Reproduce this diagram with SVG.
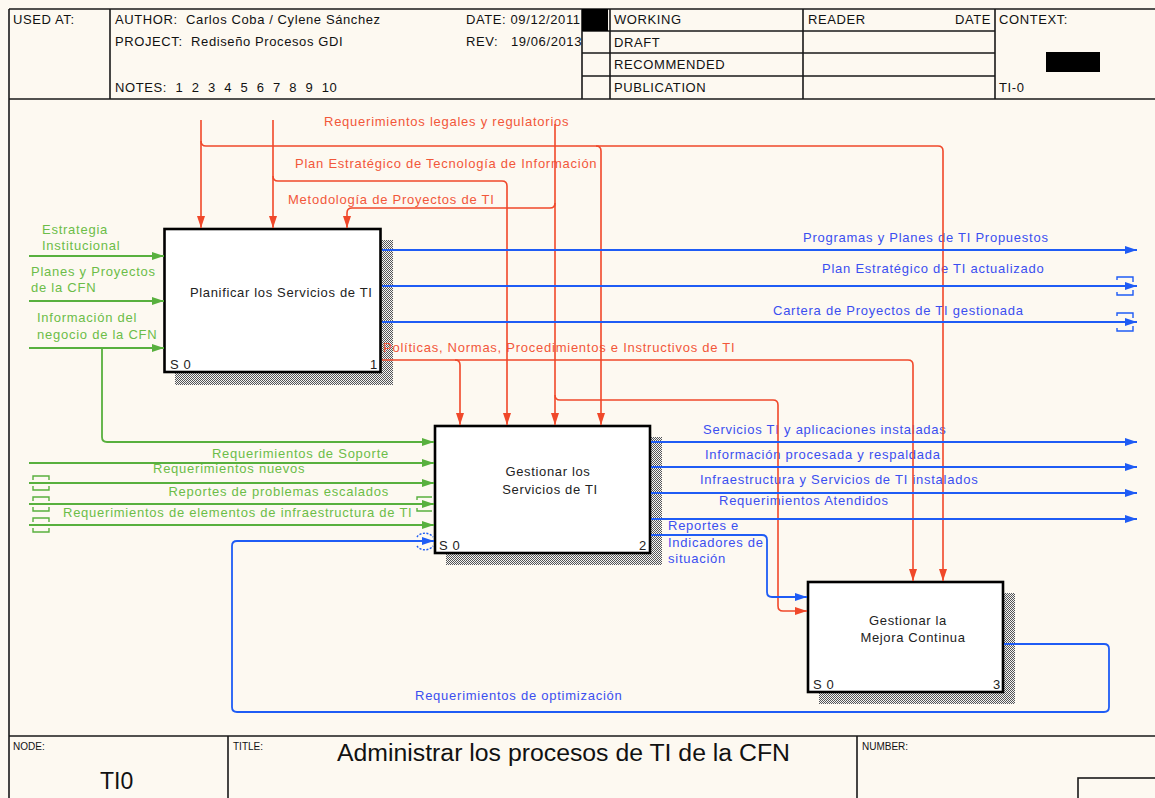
<svg xmlns="http://www.w3.org/2000/svg" width="1155" height="798" viewBox="0 0 1155 798">
  <defs>
    <style>
      .frame { fill: none; stroke: #1a1a1a; stroke-width: 1.6; }
      .hd { font-family: "Liberation Sans", Arial, sans-serif; font-size: 13px; letter-spacing: 0.6px; fill: #111; white-space: pre; }
      .sm { font-family: "Liberation Sans", Arial, sans-serif; font-size: 10px; fill: #111; }
      .box { fill: #ffffff; stroke: #000; stroke-width: 2.6; }
      .shadow { fill: url(#hatch); }
      .bt { font-family: "Liberation Sans", Arial, sans-serif; font-size: 13px; letter-spacing: 0.65px; fill: #222; }
      .lbl { font-family: "Liberation Sans", Arial, sans-serif; font-size: 13px; letter-spacing: 0.75px; }
      .g { fill: #6cbd48; }
      .b { fill: #3b4ff0; }
      .r { fill: #f2573a; }
      .cg { fill: none; stroke: #58b03e; stroke-width: 1.8; }
      .cb { fill: none; stroke: #1f5cf5; stroke-width: 1.8; }
      .cr { fill: none; stroke: #f0482a; stroke-width: 1.6; }
      .tg { fill: none; stroke: #58b03e; stroke-width: 1.4; }
      .tb { fill: none; stroke: #1f5cf5; stroke-width: 1.4; }
    </style>
    <pattern id="hatch" width="2" height="2" patternUnits="userSpaceOnUse">
      <rect width="2" height="2" fill="#f4f4f4"/>
      <rect width="1" height="1" fill="#555"/>
      <rect x="1" y="1" width="1" height="1" fill="#555"/>
    </pattern>
    <marker id="ag" viewBox="0 0 12 8" refX="12" refY="4" markerWidth="12" markerHeight="8" markerUnits="userSpaceOnUse" orient="auto">
      <path d="M0,0 L12,4 L0,8 z" fill="#58b03e"/>
    </marker>
    <marker id="ab" viewBox="0 0 12 8" refX="12" refY="4" markerWidth="12" markerHeight="8" markerUnits="userSpaceOnUse" orient="auto">
      <path d="M0,0 L12,4 L0,8 z" fill="#1f5cf5"/>
    </marker>
    <marker id="ar" viewBox="0 0 12 8" refX="12" refY="4" markerWidth="12" markerHeight="8" markerUnits="userSpaceOnUse" orient="auto">
      <path d="M0,0 L12,4 L0,8 z" fill="#f0482a"/>
    </marker>
  </defs>

  <rect width="1155" height="798" fill="#fdf9f1"/>

  <!-- title block: header -->
  <g id="header">
    <path class="frame" d="M9,9 H1155 M9,99 H1155 M9,9 V798 M110,9 V99 M582,9 V99 M610,9 V99 M803,9 V99 M995,9 V99 M582,31 H995 M582,53 H995 M582,76 H995"/>
    <rect x="582" y="9" width="26" height="22" fill="#000"/>
    <rect x="1046" y="52" width="54" height="20" fill="#000"/>
    <text class="hd" x="13" y="24">USED AT:</text>
    <text class="hd" x="115" y="24">AUTHOR:  Carlos Coba / Cylene Sánchez</text>
    <text class="hd" x="115" y="46">PROJECT:  Rediseño Procesos GDI</text>
    <text class="hd" x="115" y="92">NOTES:  1  2  3  4  5  6  7  8  9  10</text>
    <text class="hd" x="466" y="24">DATE: 09/12/2011</text>
    <text class="hd" x="466" y="46">REV:   19/06/2013</text>
    <text class="hd" x="614" y="24">WORKING</text>
    <text class="hd" x="614" y="47">DRAFT</text>
    <text class="hd" x="614" y="69">RECOMMENDED</text>
    <text class="hd" x="614" y="92">PUBLICATION</text>
    <text class="hd" x="808" y="24">READER</text>
    <text class="hd" x="991" y="24" text-anchor="end">DATE</text>
    <text class="hd" x="999" y="24">CONTEXT:</text>
    <text class="hd" x="999" y="92">TI-0</text>
  </g>

  <!-- title block: footer -->
  <g id="footer">
    <path class="frame" d="M9,736 H1155 M228,736 V798 M857,736 V798"/>
    <rect x="1078" y="778" width="90" height="30" class="frame"/>
    <text class="sm" x="13" y="750">NODE:</text>
    <text class="sm" x="233" y="750">TITLE:</text>
    <text class="sm" x="862" y="750">NUMBER:</text>
    <text x="100" y="789" font-family="Liberation Sans, Arial, sans-serif" font-size="23" fill="#111">TI0</text>
    <text x="337" y="761" font-family="Liberation Sans, Arial, sans-serif" font-size="23" fill="#111" textLength="453" lengthAdjust="spacingAndGlyphs">Administrar los procesos de TI de la CFN</text>
  </g>

  <!-- activity boxes -->
  <g id="node-1">
    <path class="shadow" d="M381,240 H393 V385 H175 V373 H381 Z"/>
    <rect class="box" x="164.5" y="229" width="216" height="143"/>
    <text class="bt" x="190" y="297">Planificar los Servicios de TI</text>
    <text class="bt" x="170" y="369">S 0</text>
    <text class="bt" x="378" y="369" text-anchor="end">1</text>
  </g>
  <g id="node-2">
    <path class="shadow" d="M650,437 H662 V565 H446 V553 H650 Z"/>
    <rect class="box" x="435" y="426" width="215" height="127"/>
    <text class="bt" x="548" y="476" text-anchor="middle">Gestionar los</text>
    <text class="bt" x="550" y="494" text-anchor="middle">Servicios de TI</text>
    <text class="bt" x="439" y="550">S 0</text>
    <text class="bt" x="647" y="550" text-anchor="end">2</text>
  </g>
  <g id="node-3">
    <path class="shadow" d="M1003,593 H1015 V704 H819 V692 H1003 Z"/>
    <rect class="box" x="808" y="582" width="195" height="110"/>
    <text class="bt" x="908" y="625" text-anchor="middle">Gestionar la</text>
    <text class="bt" x="913" y="642" text-anchor="middle">Mejora Continua</text>
    <text class="bt" x="813" y="689">S 0</text>
    <text class="bt" x="1001" y="689" text-anchor="end">3</text>
  </g>

  <!-- arrow labels -->
  <g id="labels" class="lbl">
    <text class="g" x="42" y="234">Estrategia</text>
    <text class="g" x="42" y="250">Institucional</text>
    <text class="g" x="31" y="276">Planes y Proyectos</text>
    <text class="g" x="31" y="292">de la CFN</text>
    <text class="g" x="37" y="322">Información del</text>
    <text class="g" x="37" y="339">negocio de la CFN</text>
    <text class="g" x="389" y="458" text-anchor="end">Requerimientos de Soporte</text>
    <text class="g" x="153" y="473">Requerimientos nuevos</text>
    <text class="g" x="389" y="496" text-anchor="end">Reportes de problemas escalados</text>
    <text class="g" x="63" y="517">Requerimientos de elementos de infraestructura de TI</text>

    <text class="r" x="324" y="126">Requerimientos legales y regulatorios</text>
    <text class="r" x="295" y="168">Plan Estratégico de Tecnología de Información</text>
    <text class="r" x="288" y="204">Metodología de Proyectos de TI</text>
    <text class="r" x="383" y="352">Políticas, Normas, Procedimientos e Instructivos de TI</text>

    <text class="b" x="803" y="242">Programas y Planes de TI Propuestos</text>
    <text class="b" x="822" y="273">Plan Estratégico de TI actualizado</text>
    <text class="b" x="773" y="315">Cartera de Proyectos de TI gestionada</text>
    <text class="b" x="703" y="434">Servicios TI y aplicaciones instaladas</text>
    <text class="b" x="705" y="459">Información procesada y respaldada</text>
    <text class="b" x="700" y="484">Infraestructura y Servicios de TI instalados</text>
    <text class="b" x="719" y="505">Requerimientos Atendidos</text>
    <text class="b" x="668" y="530">Reportes e</text>
    <text class="b" x="668" y="547">Indicadores de</text>
    <text class="b" x="668" y="563">situación</text>
    <text class="b" x="415" y="700">Requerimientos de optimización</text>
  </g>

  <!-- connectors -->
  <g id="connectors">
    <!-- inputs -->
    <path class="cg" d="M29,256 H164" marker-end="url(#ag)"/>
    <path class="cg" d="M29,301 H164" marker-end="url(#ag)"/>
    <path class="cg" d="M29,348 H164" marker-end="url(#ag)"/>
    <path class="cg" d="M102,348 V437 Q102,442 107,442 H434" marker-end="url(#ag)"/>
    <path class="cg" d="M29,463 H434" marker-end="url(#ag)"/>
    <path class="cg" d="M29,483 H434" marker-end="url(#ag)"/>
    <path class="cg" d="M29,504 H434" marker-end="url(#ag)"/>
    <path class="cg" d="M29,525 H434" marker-end="url(#ag)"/>
    <!-- tunnel marks -->
    <path class="tg" d="M33,480 V476 H49 V480 M33,486 V490 H49 V486 M33,501 V497 H49 V501 M33,507 V511 H49 V507 M33,522 V518 H49 V522 M33,528 V532 H49 V528"/>
    <path class="tg" d="M417,500 V497 H432 M417,508 V511 H432"/>

    <!-- controls -->
    <path class="cr" d="M201,120 V228" marker-end="url(#ar)"/>
    <path class="cr" d="M201,141 Q201,146 206,146 H938 Q943,146 943,151 V581" marker-end="url(#ar)"/>
    <path class="cr" d="M596,146 Q601,146 601,151 V425" marker-end="url(#ar)"/>
    <path class="cr" d="M273,120 V228" marker-end="url(#ar)"/>
    <path class="cr" d="M273,176 Q273,181 278,181 H502 Q507,181 507,186 V425" marker-end="url(#ar)"/>
    <path class="cr" d="M555,124 V425" marker-end="url(#ar)"/>
    <path class="cr" d="M555,203 Q555,208 550,208 H352 Q347,208 347,213 V228" marker-end="url(#ar)"/>
    <path class="cr" d="M555,395 Q555,400 560,400 H773 Q778,400 778,405 V606 Q778,611 783,611 H807" marker-end="url(#ar)"/>
    <path class="cr" d="M382,360 H908 Q913,360 913,365 V581" marker-end="url(#ar)"/>
    <path class="cr" d="M455,360 Q460,360 460,365 V425" marker-end="url(#ar)"/>

    <!-- outputs -->
    <path class="cb" d="M382,250 H1137" marker-end="url(#ab)"/>
    <path class="cb" d="M382,286 H1137" marker-end="url(#ab)"/>
    <path class="cb" d="M382,322 H1137" marker-end="url(#ab)"/>
    <path class="tb" d="M1117,280 V277 H1133 V282 M1117,292 V295 H1133 V290 M1117,316 V313 H1133 V318 M1117,328 V331 H1133 V326"/>
    <path class="cb" d="M651,442 H1137" marker-end="url(#ab)"/>
    <path class="cb" d="M651,467 H1137" marker-end="url(#ab)"/>
    <path class="cb" d="M651,493 H1137" marker-end="url(#ab)"/>
    <path class="cb" d="M651,519 H1137" marker-end="url(#ab)"/>
    <path class="cb" d="M651,535 H762 Q767,535 767,540 V592 Q767,597 772,597 H807" marker-end="url(#ab)"/>
    <path class="cb" d="M1004,644 H1104 Q1109,644 1109,649 V707 Q1109,712 1104,712 H237 Q232,712 232,707 V546 Q232,541 237,541 H434" marker-end="url(#ab)"/>
    <path class="tb" stroke-dasharray="2 1.5" d="M417,537 A9,7 0 0 1 433,537 M417,546 A9,7 0 0 0 433,546"/>
  </g>
</svg>
